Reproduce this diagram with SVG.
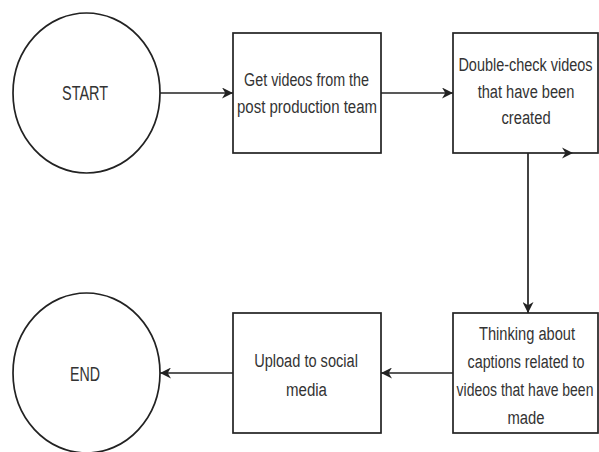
<svg xmlns="http://www.w3.org/2000/svg" width="599" height="452" viewBox="0 0 599 452">
<defs>
<style>
.shape{fill:#ffffff;stroke:#222222;stroke-width:1.7}
.edge{fill:none;stroke:#222222;stroke-width:1.7}
.lbl{font-family:"Liberation Sans",Arial,sans-serif;font-size:19px;fill:#333333;text-anchor:middle}
.term{font-size:21px}
</style>
<marker id="arr" viewBox="0 0 10 10" refX="10" refY="5" markerWidth="11" markerHeight="11" markerUnits="userSpaceOnUse" orient="auto">
<path d="M0,0 L10,5 L0,10 L3,5 Z" fill="#222222"/>
</marker>
</defs>
<rect width="599" height="452" fill="#ffffff"/>
<g id="connectors">
<line class="edge" x1="160" y1="93" x2="233" y2="93" marker-end="url(#arr)"/>
<line class="edge" x1="381" y1="93" x2="453" y2="93" marker-end="url(#arr)"/>
<line class="edge" x1="528" y1="153" x2="528" y2="313" marker-end="url(#arr)"/>
<line class="edge" x1="453" y1="373" x2="381" y2="373" marker-end="url(#arr)"/>
<line class="edge" x1="233" y1="373" x2="160" y2="373" marker-end="url(#arr)"/>
</g>
<g id="start">
<ellipse class="shape" cx="86.5" cy="93" rx="73.5" ry="80"/>
<text class="lbl term" transform="translate(85,100) scale(0.78,1)" textLength="59" lengthAdjust="spacingAndGlyphs">START</text>
</g>
<g id="get-videos">
<rect class="shape" x="233" y="33" width="148" height="120"/>
<text class="lbl" transform="translate(306.5,86) scale(0.78,1)" textLength="160" lengthAdjust="spacingAndGlyphs">Get videos from the</text>
<text class="lbl" transform="translate(307,113) scale(0.78,1)" textLength="179.5" lengthAdjust="spacingAndGlyphs">post production team</text>
</g>
<g id="double-check">
<rect class="shape" x="453" y="33" width="145" height="120"/>
<text class="lbl" transform="translate(525.5,71) scale(0.78,1)" textLength="172" lengthAdjust="spacingAndGlyphs">Double-check videos</text>
<text class="lbl" transform="translate(526,98) scale(0.78,1)" textLength="124" lengthAdjust="spacingAndGlyphs">that have been</text>
<text class="lbl" transform="translate(526,124) scale(0.78,1)" textLength="63" lengthAdjust="spacingAndGlyphs">created</text>
<path d="M562,147.5 L573,153 L562,158.5 L565.5,153 Z" fill="#222222"/>
</g>
<g id="captions">
<rect class="shape" x="453" y="313" width="145" height="120"/>
<text class="lbl" transform="translate(527,340) scale(0.78,1)" textLength="123" lengthAdjust="spacingAndGlyphs">Thinking about</text>
<text class="lbl" transform="translate(526,368) scale(0.78,1)" textLength="150" lengthAdjust="spacingAndGlyphs">captions related to</text>
<text class="lbl" transform="translate(525,396) scale(0.72,1)" textLength="190" lengthAdjust="spacingAndGlyphs">videos that have been</text>
<text class="lbl" transform="translate(526,424) scale(0.78,1)" textLength="47.5" lengthAdjust="spacingAndGlyphs">made</text>
</g>
<g id="upload">
<rect class="shape" x="233" y="313" width="148" height="120"/>
<text class="lbl" transform="translate(306,367) scale(0.78,1)" textLength="133" lengthAdjust="spacingAndGlyphs">Upload to social</text>
<text class="lbl" transform="translate(306.5,396) scale(0.78,1)" textLength="52.5" lengthAdjust="spacingAndGlyphs">media</text>
</g>
<g id="end">
<ellipse class="shape" cx="86.5" cy="373" rx="73.5" ry="80"/>
<text class="lbl term" transform="translate(85,381) scale(0.78,1)" textLength="38.5" lengthAdjust="spacingAndGlyphs">END</text>
</g>
</svg>
